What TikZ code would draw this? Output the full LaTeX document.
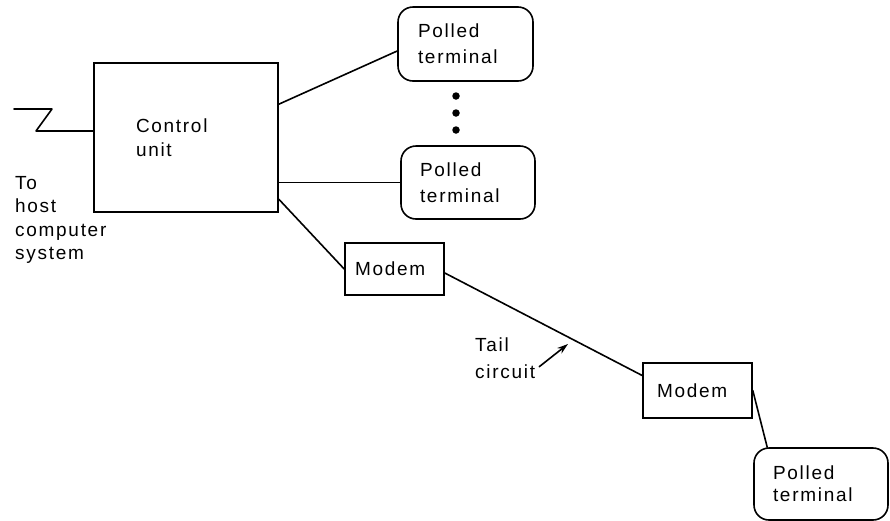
\documentclass[tikz,border=0pt]{standalone}
\usepackage{fontspec}
\setmainfont{Liberation Sans}
\newfontfamily\lbl[LetterSpace=9]{Liberation Sans}
\usetikzlibrary{arrows.meta,calc}
\tikzset{
  line/.style={line width=1.6pt,line cap=round,line join=round},
  box/.style={draw,line width=1.6pt,rectangle,align=left,inner ysep=0pt,anchor=center},
  term/.style={box,rounded corners=15pt},
  txt/.style={inner sep=0pt,align=left},
}
\begin{document}
\begin{tikzpicture}[x=1pt,y=-1pt,font=\lbl\fontsize{19}{26}\selectfont]
\useasboundingbox (0,0) rectangle (890,520);
% boxes
\node[box,minimum width=184pt,minimum height=149pt,text width=100pt,inner xsep=42pt,font=\lbl\fontsize{19}{24}\selectfont] (cu) at (186,137.5) {Control\\unit};
\node[term,minimum width=135pt,minimum height=74pt,text width=95pt,inner xsep=20pt] (t1) at (465.5,44) {Polled\\terminal};
\node[term,minimum width=134pt,minimum height=73pt,text width=96pt,inner xsep=19pt] (t2) at (468,182.5) {Polled\\terminal};
\node[term,minimum width=134pt,minimum height=72pt,text width=96pt,inner xsep=19pt,font=\lbl\fontsize{19}{22}\selectfont] (t3) at (821,484) {Polled\\terminal};
\node[box,minimum width=99pt,minimum height=52pt,text width=79pt,inner xsep=10pt] (m1) at (394.5,269) {Modem};
\node[box,minimum width=109pt,minimum height=55pt,text width=81pt,inner xsep=14pt] (m2) at (697.5,390.5) {Modem};
% dots
\foreach \i/\y in {1/96,2/113,3/130}
  \node[circle,fill,inner sep=0pt,minimum size=7.5pt] (d\i) at (456,\y) {};
% texts
\node[txt,anchor=north west,font=\lbl\fontsize{19}{23.5}\selectfont] (host) at (15,176) {To\\host\\computer\\system};
\node[txt,anchor=north west,font=\lbl\fontsize{19}{27}\selectfont] (tail) at (475,338) {Tail\\circuit};
% connectors
\coordinate (hostend) at (14,109);
\draw[line] ([yshift=6.5pt]cu.west) -- (36,131) -- (52,109) -- (hostend);
\draw[line] ([yshift=-42pt]cu.north east) -- ([yshift=-7pt]t1.west);
\draw[line] (cu.east |- t2.west) -- (t2.west);
\draw[line] ([yshift=-137pt]cu.north east) -- (m1.west);
\draw[line] ([yshift=-4pt]m1.east) -- ([yshift=15pt]m2.west);
\draw[line] (m2.east) -- ([xshift=14pt]t3.north west);
\coordinate (tip) at (568,344);
\draw[line,-{Stealth[length=11pt,width=7pt]}] ([xshift=4pt,yshift=-8pt]tail.east) -- (tip);
\end{tikzpicture}
\end{document}
